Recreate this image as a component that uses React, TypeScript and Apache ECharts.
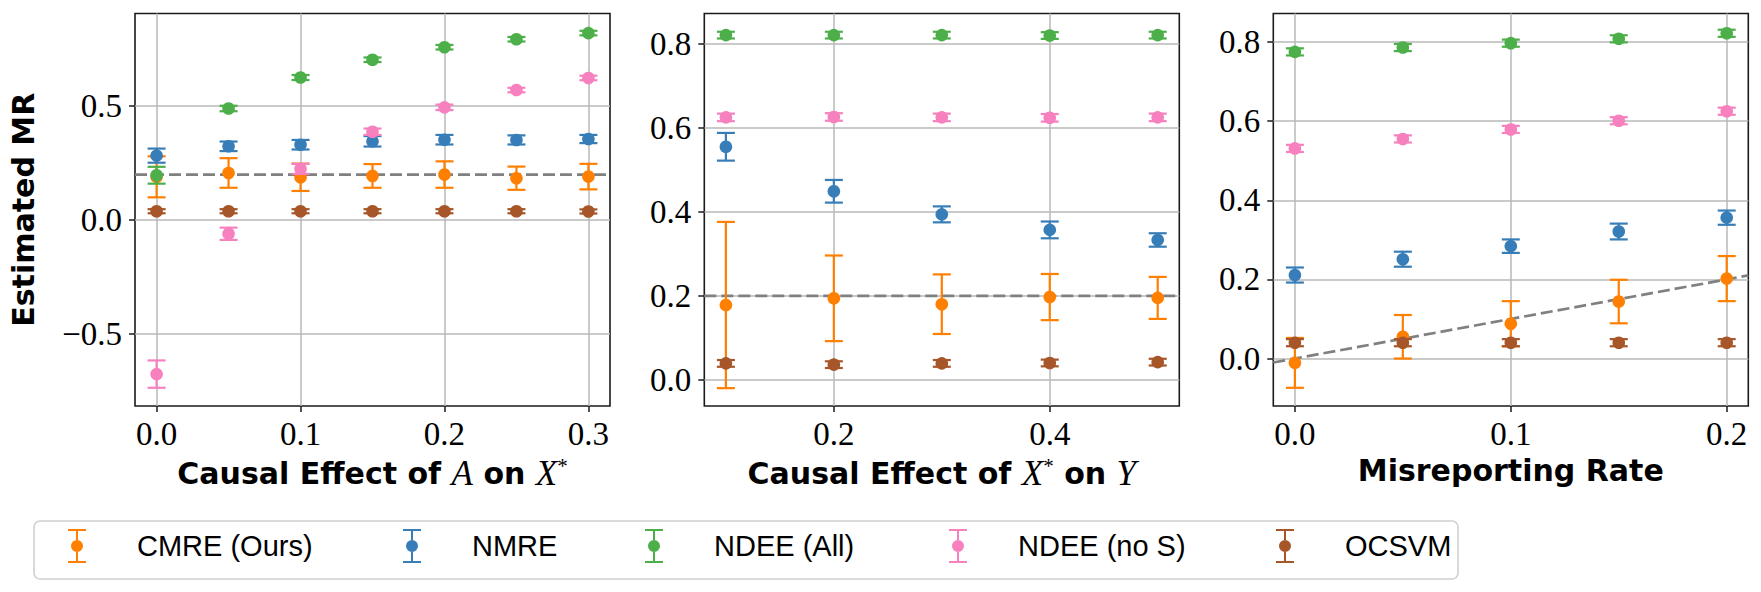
import React, { useEffect, useRef } from "react";
import * as echarts from "echarts";

// ---------- data ----------
const methods = ["CMRE (Ours)", "NMRE", "NDEE (All)", "NDEE (no S)", "OCSVM"];
const colors = ["#ff7f00", "#377eb8", "#4daf4a", "#f781bf", "#a65628"];

// Panel 1: Causal effect of A on X*
const xA = [0, 0.05, 0.1, 0.15, 0.2, 0.25, 0.3];
const meanA_CMRE = [0.19, 0.207, 0.188, 0.194, 0.2, 0.184, 0.191];
const errA_CMRE = [0.09, 0.065, 0.06, 0.052, 0.058, 0.051, 0.056];
const meanA_NMRE = [0.283, 0.324, 0.331, 0.346, 0.353, 0.352, 0.356];
const errA_NMRE = [0.031, 0.021, 0.021, 0.023, 0.021, 0.02, 0.018];
const meanA_NDEEall = [0.197, 0.49, 0.626, 0.704, 0.759, 0.794, 0.821];
const errA_NDEEall = [0.037, 0.012, 0.011, 0.01, 0.01, 0.01, 0.01];
const meanA_NDEEnoS = [-0.676, -0.06, 0.225, 0.388, 0.495, 0.571, 0.624];
const errA_NDEEnoS = [0.06, 0.027, 0.022, 0.014, 0.012, 0.01, 0.01];
const meanA_OCSVM = [0.039, 0.039, 0.039, 0.039, 0.039, 0.039, 0.038];
const errA_OCSVM = [0.009, 0.009, 0.009, 0.009, 0.009, 0.009, 0.009];

// Panel 2: Causal effect of X* on Y
const xB = [0.1, 0.2, 0.3, 0.4, 0.5];
const meanB_CMRE = [0.178, 0.194, 0.18, 0.197, 0.195];
const errB_CMRE = [0.198, 0.102, 0.071, 0.055, 0.05];
const meanB_NMRE = [0.555, 0.449, 0.394, 0.357, 0.333];
const errB_NMRE = [0.033, 0.027, 0.019, 0.02, 0.016];
const meanB_NDEEall = [0.821, 0.821, 0.821, 0.82, 0.821];
const errB_NDEEall = [0.008, 0.008, 0.008, 0.008, 0.008];
const meanB_NDEEnoS = [0.625, 0.626, 0.625, 0.624, 0.625];
const errB_NDEEnoS = [0.009, 0.009, 0.009, 0.009, 0.009];
const meanB_OCSVM = [0.039, 0.036, 0.039, 0.04, 0.042];
const errB_OCSVM = [0.008, 0.008, 0.008, 0.008, 0.008];

// Panel 3: Misreporting rate
const xC = [0, 0.05, 0.1, 0.15, 0.2];
const meanC_CMRE = [-0.011, 0.055, 0.088, 0.144, 0.202];
const errC_CMRE = [0.063, 0.055, 0.057, 0.055, 0.057];
const meanC_NMRE = [0.211, 0.251, 0.284, 0.321, 0.356];
const errC_NMRE = [0.019, 0.019, 0.017, 0.02, 0.018];
const meanC_NDEEall = [0.775, 0.786, 0.797, 0.808, 0.822];
const errC_NDEEall = [0.009, 0.009, 0.009, 0.009, 0.009];
const meanC_NDEEnoS = [0.531, 0.555, 0.579, 0.601, 0.625];
const errC_NDEEnoS = [0.009, 0.009, 0.009, 0.009, 0.009];
const meanC_OCSVM = [0.04, 0.04, 0.04, 0.04, 0.04];
const errC_OCSVM = [0.009, 0.009, 0.009, 0.009, 0.009];

// axis limits & ticks
const xTicksA = [0, 0.1, 0.2, 0.3];
const yTicksA = [-0.5, 0, 0.5];
const xTicksB = [0.2, 0.4];
const yTicksB = [0, 0.2, 0.4, 0.6, 0.8];
const xTicksC = [0, 0.1, 0.2];
const yTicksC = [0, 0.2, 0.4, 0.6, 0.8];
const trueMR = 0.2;

const panels = [
  {
    x: xA,
    means: [meanA_CMRE, meanA_NMRE, meanA_NDEEall, meanA_NDEEnoS, meanA_OCSVM],
    errs: [errA_CMRE, errA_NMRE, errA_NDEEall, errA_NDEEnoS, errA_OCSVM],
    xMin: -0.015, xMax: 0.315, yMin: -0.816, yMax: 0.907,
    xTicks: xTicksA, yTicks: yTicksA,
    title: "{b|Causal Effect of }{m|A}{b| on }{m|X}{s|*}",
    refLine: "flat",
  },
  {
    x: xB,
    means: [meanB_CMRE, meanB_NMRE, meanB_NDEEall, meanB_NDEEnoS, meanB_OCSVM],
    errs: [errB_CMRE, errB_NMRE, errB_NDEEall, errB_NDEEnoS, errB_OCSVM],
    xMin: 0.08, xMax: 0.52, yMin: -0.0625, yMax: 0.8725,
    xTicks: xTicksB, yTicks: yTicksB,
    title: "{b|Causal Effect of }{m|X}{s|*}{b| on }{m|Y}",
    refLine: "flat",
  },
  {
    x: xC,
    means: [meanC_CMRE, meanC_NMRE, meanC_NDEEall, meanC_NDEEnoS, meanC_OCSVM],
    errs: [errC_CMRE, errC_NMRE, errC_NDEEall, errC_NDEEnoS, errC_OCSVM],
    xMin: -0.01, xMax: 0.21, yMin: -0.12, yMax: 0.872,
    xTicks: xTicksC, yTicks: yTicksC,
    title: "{b|Misreporting Rate}",
    refLine: "identity",
  },
];

// ---------- layout ----------
const gridLefts = [135, 704.3, 1273.3];
const gridTop = 13.5;
const gridW = 475;
const gridH = 392.5;
const legendCenters = [78, 413, 655, 959, 1286];

const ICON =
  "path://M1 0L19 0L19 2L1 2Z M9 2L11 2L11 11L9 11Z M9 23L11 23L11 32L9 32Z M1 32L19 32L19 34L1 34Z M4 17A6 6 0 1 1 16 17A6 6 0 1 1 4 17Z";

const fmt = (v: number) => v.toFixed(1).replace("-", "\u2212");

const makeRender = (color: string) => (params: any, api: any) => {
  const x = api.value(0);
  const y = api.value(1);
  const e = api.value(2);
  const c = api.coord([x, y]);
  const lo = api.coord([x, y - e]);
  const hi = api.coord([x, y + e]);
  const cw = 9;
  const ls = { stroke: color, lineWidth: 2.2 };
  return {
    type: "group",
    children: [
      { type: "line", shape: { x1: lo[0], y1: lo[1], x2: hi[0], y2: hi[1] }, style: ls },
      { type: "line", shape: { x1: lo[0] - cw, y1: lo[1], x2: lo[0] + cw, y2: lo[1] }, style: ls },
      { type: "line", shape: { x1: hi[0] - cw, y1: hi[1], x2: hi[0] + cw, y2: hi[1] }, style: ls },
      { type: "circle", shape: { cx: c[0], cy: c[1], r: 6.3 }, style: { fill: color } },
    ],
  };
};

const titleRich = {
  b: { fontFamily: "DejaVu Sans", fontWeight: "bold", fontSize: 30, color: "#000" },
  m: { fontFamily: "Liberation Serif", fontStyle: "italic", fontSize: 35, color: "#000" },
  s: { fontFamily: "Liberation Serif", fontSize: 21, color: "#000", padding: [0, 0, 15, 0] },
};

function buildOption() {
  const grid: any[] = [];
  const xAxis: any[] = [];
  const yAxis: any[] = [];
  const series: any[] = [];

  panels.forEach((p, pi) => {
    grid.push({
      left: gridLefts[pi], top: gridTop, width: gridW, height: gridH,
      show: true, borderColor: "#1a1a1a", borderWidth: 1.6, backgroundColor: "transparent",
      containLabel: false, outerBoundsMode: "none",
    });
    xAxis.push({
      type: "value", gridIndex: pi, min: p.xMin, max: p.xMax,
      axisLine: { show: false, onZero: false },
      axisTick: { show: true, inside: false, length: 6, customValues: p.xTicks, lineStyle: { color: "#1a1a1a", width: 1.5 } },
      axisLabel: {
        customValues: p.xTicks, formatter: fmt, margin: 11,
        fontFamily: "Liberation Serif", fontSize: 33, color: "#000",
      },
      splitLine: { show: true, lineStyle: { color: "#b8b8b8", width: 1.5 } },
      name: p.title, nameLocation: "middle", nameGap: 49,
      nameTextStyle: { rich: titleRich },
    });
    yAxis.push({
      type: "value", gridIndex: pi, min: p.yMin, max: p.yMax,
      axisLine: { show: false, onZero: false },
      axisTick: { show: true, inside: false, length: 6, customValues: p.yTicks, lineStyle: { color: "#1a1a1a", width: 1.5 } },
      axisLabel: {
        customValues: p.yTicks, formatter: fmt, margin: 13,
        fontFamily: "Liberation Serif", fontSize: 33, color: "#000",
      },
      splitLine: { show: true, lineStyle: { color: "#b8b8b8", width: 1.5 } },
      ...(pi === 0
        ? {
            name: "Estimated MR", nameLocation: "middle", nameGap: 97, nameRotate: 90,
            nameTextStyle: { fontFamily: "DejaVu Sans", fontWeight: "bold", fontSize: 30, color: "#000" },
          }
        : {}),
    });

    const refData =
      p.refLine === "flat"
        ? [[p.xMin, trueMR], [p.xMax, trueMR]]
        : [[p.xMin, p.xMin], [p.xMax, p.xMax]];
    series.push({
      type: "line", xAxisIndex: pi, yAxisIndex: pi, data: refData,
      symbol: "none", silent: true, z: 1,
      lineStyle: { color: "#808080", width: 2.7, type: [12, 5] },
    });

    methods.forEach((m, mi) => {
      series.push({
        type: "custom", name: m, xAxisIndex: pi, yAxisIndex: pi, z: 2,
        itemStyle: { color: colors[mi] },
        data: p.x.map((xv, k) => [xv, p.means[mi][k], p.errs[mi][k]]),
        encode: { x: 0, y: 1 },
        renderItem: makeRender(colors[mi]),
      });
    });
  });

  const legend = methods.map((m, i) => ({
    data: [{ name: m, icon: ICON }],
    left: legendCenters[i] - 10, top: 529,
    itemWidth: 20, itemHeight: 34, padding: 0, itemGap: 0,
    selectedMode: false,
    textStyle: { fontFamily: "Liberation Sans", fontSize: 29, color: "#000", padding: [0, 0, 0, 45] },
  }));

  return {
    animation: false,
    backgroundColor: "#ffffff",
    grid, xAxis, yAxis, series, legend,
    graphic: [
      {
        type: "rect", z: -10,
        shape: { x: 34, y: 521, width: 1424, height: 58, r: 6 },
        style: { fill: "#ffffff", stroke: "#d0d0d0", lineWidth: 1.6 },
      },
    ],
  };
}

export default function App() {
  const ref = useRef<HTMLDivElement>(null);
  useEffect(() => {
    if (!ref.current) return;
    const chart = echarts.init(ref.current, null, { renderer: "svg" });
    chart.setOption(buildOption() as any);
    return () => chart.dispose();
  }, []);
  return (
    <div
      ref={ref}
      style={{ position: "absolute", left: 0, top: 0, width: 1761, height: 592, background: "#fff" }}
    />
  );
}
